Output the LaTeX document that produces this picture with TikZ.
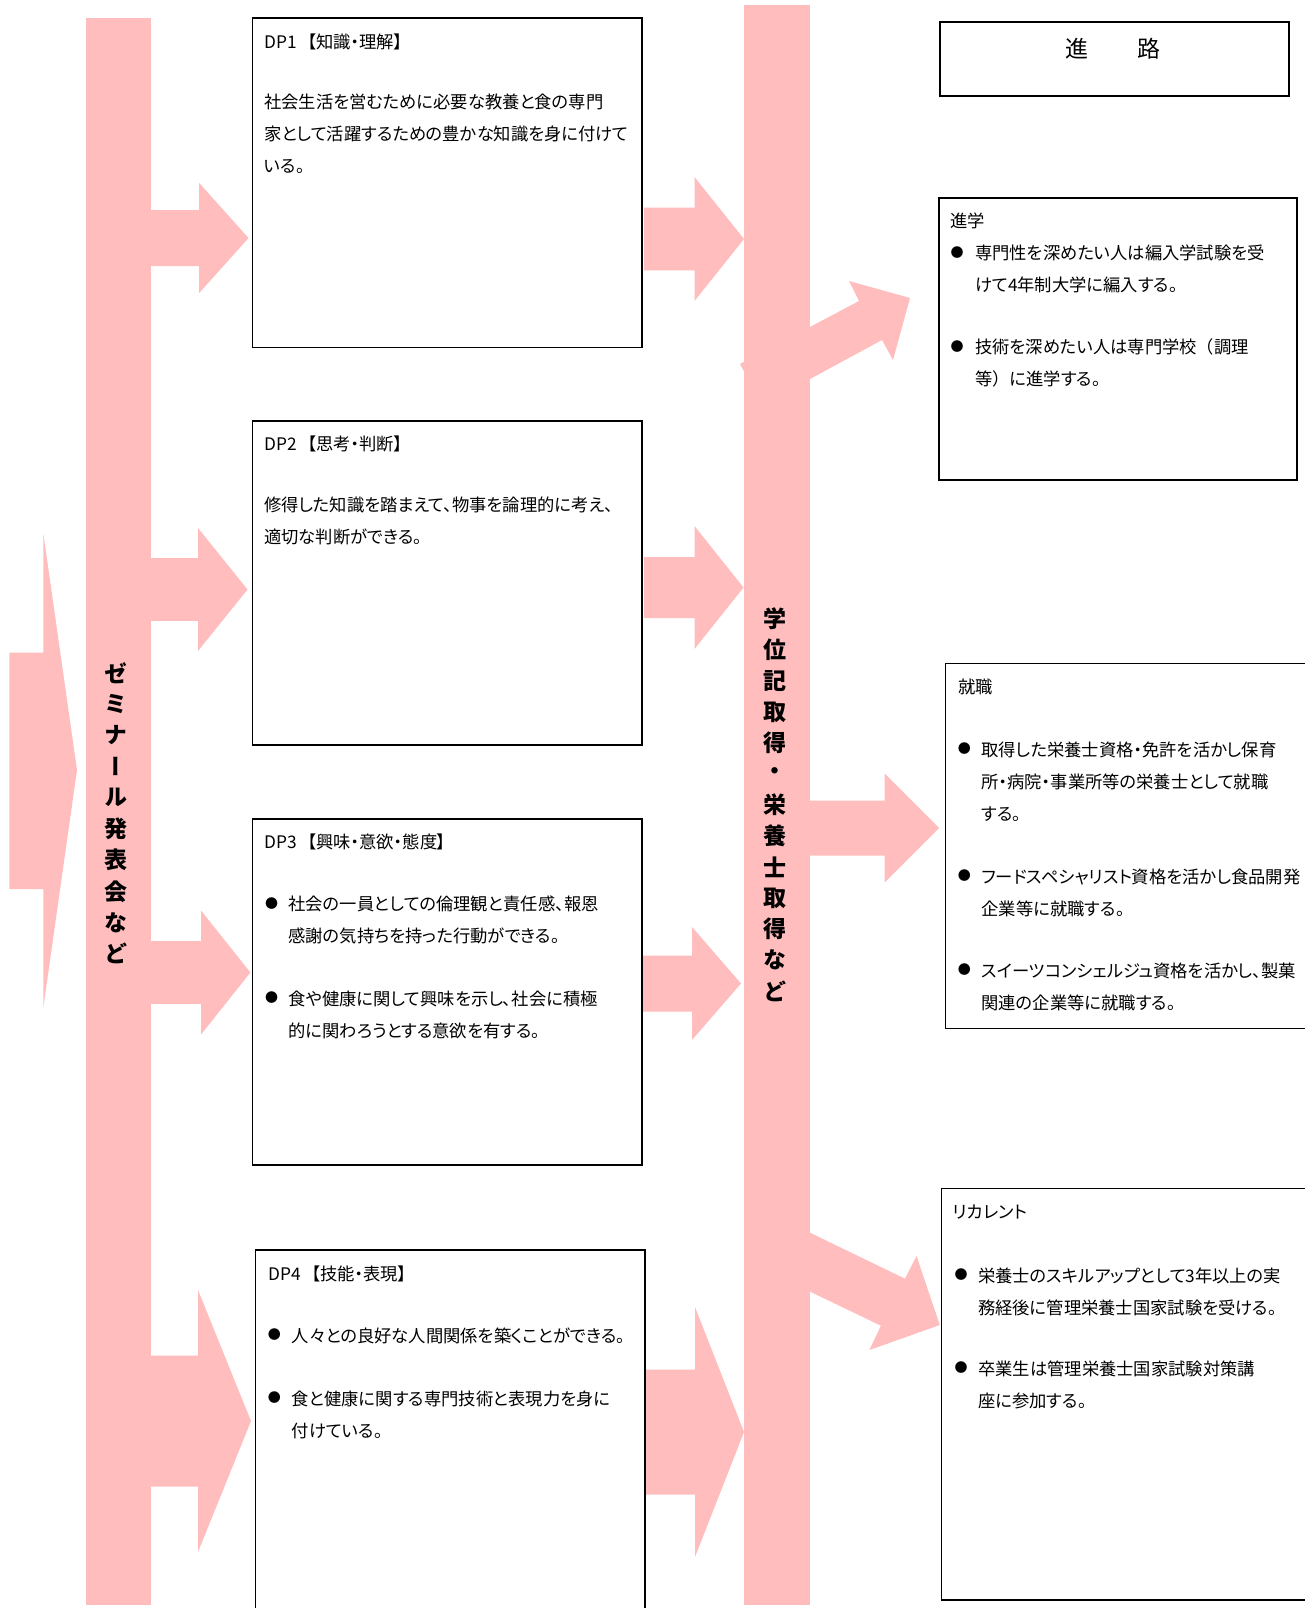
\documentclass[tikz,border=0pt]{standalone}
\usepackage{fontspec}
\setmainfont{Noto Sans CJK JP}[RawFeature=+palt]
\newfontfamily\jpv{Noto Sans CJK JP}[RawFeature=+vert]
\newfontfamily\jpfw{Noto Sans CJK JP}
\definecolor{pk}{RGB}{255,189,189}
\tikzset{
  box/.style={draw=black, line width=1.6pt, fill=white, anchor=north west, inner sep=0pt},
  bar/.style={fill=pk, draw=none, anchor=north west, inner sep=0pt},
  ln/.style={anchor=base west, inner sep=0pt, font=\fontsize{17.3}{20}\selectfont},
  bul/.style={inner sep=0pt, anchor=center, font=\fontsize{13}{14}\selectfont},
  vt/.style={inner sep=0pt, anchor=center, font=\jpv\bfseries\fontsize{23}{24}\selectfont},
  ttl/.style={inner sep=0pt, anchor=center, font=\fontsize{23}{24}\selectfont},
}
\newcommand\pkarrow[6]{%
  \fill[pk] (#1,#4-#5) -- (#2,#4-#5) -- (#2,#4-#6) -- (#3,#4) -- (#2,#4+#6) -- (#2,#4+#5) -- (#1,#4+#5) -- cycle;}
\newcommand\txtlines[4]{%
  \foreach \t [count=\i] in {#4} \node[ln] (#1\i) at (#2, #3+7+32*\i-32) {\t};}
\newcommand\gap{\hspace{11pt}}
\begin{document}
\begin{tikzpicture}[x=1pt,y=-1pt]
\useasboundingbox (0,0) rectangle (1305,1608);
\fill[white] (0,0) rectangle (1305,1608);

% bars
\node[bar, minimum width=65.6pt, minimum height=1586.7pt] (lbar) at (85.4,18.3) {};
\node[bar, minimum width=66pt, minimum height=1600pt] (mbar) at (744,5) {};

% big left arrow
\fill[pk] (9.3,652.5) -- (43.4,652.5) -- (43.4,534) -- (77,770) -- (43.4,1007) -- (43.4,889) -- (9.3,889) -- cycle;

% left bar -> DP boxes
\pkarrow{140}{199}{248.5}{238}{28}{55.2}
\pkarrow{140}{198}{247.5}{589.5}{31.3}{61.5}
\pkarrow{140}{201}{250.4}{972.5}{31.3}{62}
\pkarrow{140}{198}{251}{1421}{65.5}{131}

% DP boxes -> middle bar
\pkarrow{644}{694.5}{744}{239}{31.3}{62}
\pkarrow{644}{694.5}{743.5}{587.5}{30.5}{61.5}
\pkarrow{643}{692}{741}{983.5}{28}{56.5}
\pkarrow{645}{695}{744}{1432}{62.5}{125}

% middle bar -> right boxes
\pkarrow{800}{884.7}{939}{828}{27.5}{54.5}
\fill[pk] (740,364) -- (859,301) -- (849,281) -- (910,298) -- (893,360) -- (882,340) -- (762,405) -- cycle;
\fill[pk] (790,1223) -- (905,1278.7) -- (916.5,1256) -- (939.8,1325) -- (869.4,1350) -- (880.9,1325.7) -- (790,1282) -- cycle;

% boxes
\node[box, minimum width=389.5pt, minimum height=329.2pt] (dp1) at (251.5,17.3) {};
\node[box, minimum width=389.5pt, minimum height=324pt] (dp2) at (251.5,420) {};
\node[box, minimum width=389.5pt, minimum height=346pt] (dp3) at (251.5,818) {};
\node[box, minimum width=389.8pt, minimum height=370pt] (dp4) at (254.6,1249) {};
\node[box, minimum width=349pt, minimum height=74pt] (shinro) at (939,21) {};
\node[box, minimum width=358pt, minimum height=282pt] (shingaku) at (938,197) {};
\node[box, minimum width=370pt, minimum height=365pt] (shushoku) at (944.5,662.7) {};
\node[box, minimum width=370pt, minimum height=411.3pt] (recurrent) at (940.7,1187.7) {};

% vertical texts
\foreach \c [count=\i] in {ゼ,ミ,ナ,ー,ル,発,表,会,な,ど}
  \node[vt] (zc\i) at (116, 673+31.2*\i-31.2) {\c};
\foreach \c [count=\i] in {学,位,記,取,得,・,栄,養,士,取,得,な,ど}
  \node[vt] (gc\i) at (775, 619+31*\i-31) {\c};

% title
\node[ttl] (shinrot) at (1113,49) {進\hspace{49pt}路};

% DP1
\node[ln] (dp1t) at (264,48.7) {DP1\gap【知識・理解】};
\txtlines{dpa}{264}{101.7}{社会生活を営むために必要な教養と食の専門,家として活躍するための豊かな知識を身に付けて,いる。}

% DP2
\node[ln] (dp2t) at (264,450) {DP2\gap【思考・判断】};
\txtlines{dpb}{264}{504.5}{修得した知識を踏まえて、物事を論理的に考え、,適切な判断ができる。}

% DP3
\node[ln] (dp3t) at (264,848) {DP3\gap【興味・意欲・態度】};
\node[bul] (dp3b1) at (271.5,903.6) {●};
\txtlines{dpc}{288.3}{903.6}{社会の一員としての倫理観と責任感、報恩,感謝の気持ちを持った行動ができる。}
\node[bul] (dp3b2) at (271.5,998) {●};
\txtlines{dpd}{288.3}{998}{食や健康に関して興味を示し、社会に積極,的に関わろうとする意欲を有する。}

% DP4
\node[ln] (dp4t) at (268,1280.3) {DP4\gap【技能・表現】};
\node[bul] (dp4b1) at (274.4,1335) {●};
\txtlines{dpe}{291.7}{1335}{人々との良好な人間関係を築くことができる。}
\node[bul] (dp4b2) at (274.4,1398) {●};
\txtlines{dpf}{291.7}{1398}{食と健康に関する専門技術と表現力を身に,付けている。}

% 進学
\node[ln] (sgt) at (950.4,227.7) {進学};
\node[bul] (sgb1) at (957.2,252.3) {●};
\txtlines{sga}{975}{252.3}{専門性を深めたい人は編入学試験を受,けて4年制大学に編入する。}
\node[bul] (sgb2) at (957.2,346.7) {●};
\txtlines{sgb}{975}{346.7}{技術を深めたい人は専門学校{\jpfw （}調理,等{\jpfw ）}に進学する。}

% 就職
\node[ln] (sst) at (958,693.7) {就職};
\node[bul] (ssb1) at (964.4,749) {●};
\txtlines{ssa}{981.4}{749}{取得した栄養士資格・免許を活かし保育,所・病院・事業所等の栄養士として就職,する。}
\node[bul] (ssb2) at (964.4,876) {●};
\txtlines{ssb}{981.4}{876}{フードスペシャリスト資格を活かし食品開発,企業等に就職する。}
\node[bul] (ssb3) at (964.4,970) {●};
\txtlines{ssc}{981.4}{970}{スイーツコンシェルジュ資格を活かし、製菓,関連の企業等に就職する。}

% リカレント
\node[ln] (rct) at (953,1218.7) {リカレント};
\node[bul] (rcb1) at (961,1275) {●};
\txtlines{rca}{978}{1275}{栄養士のスキルアップとして3年以上の実,務経後に管理栄養士国家試験を受ける。}
\node[bul] (rcb2) at (961,1368) {●};
\txtlines{rcb}{978}{1368}{卒業生は管理栄養士国家試験対策講,座に参加する。}
\end{tikzpicture}
\end{document}
